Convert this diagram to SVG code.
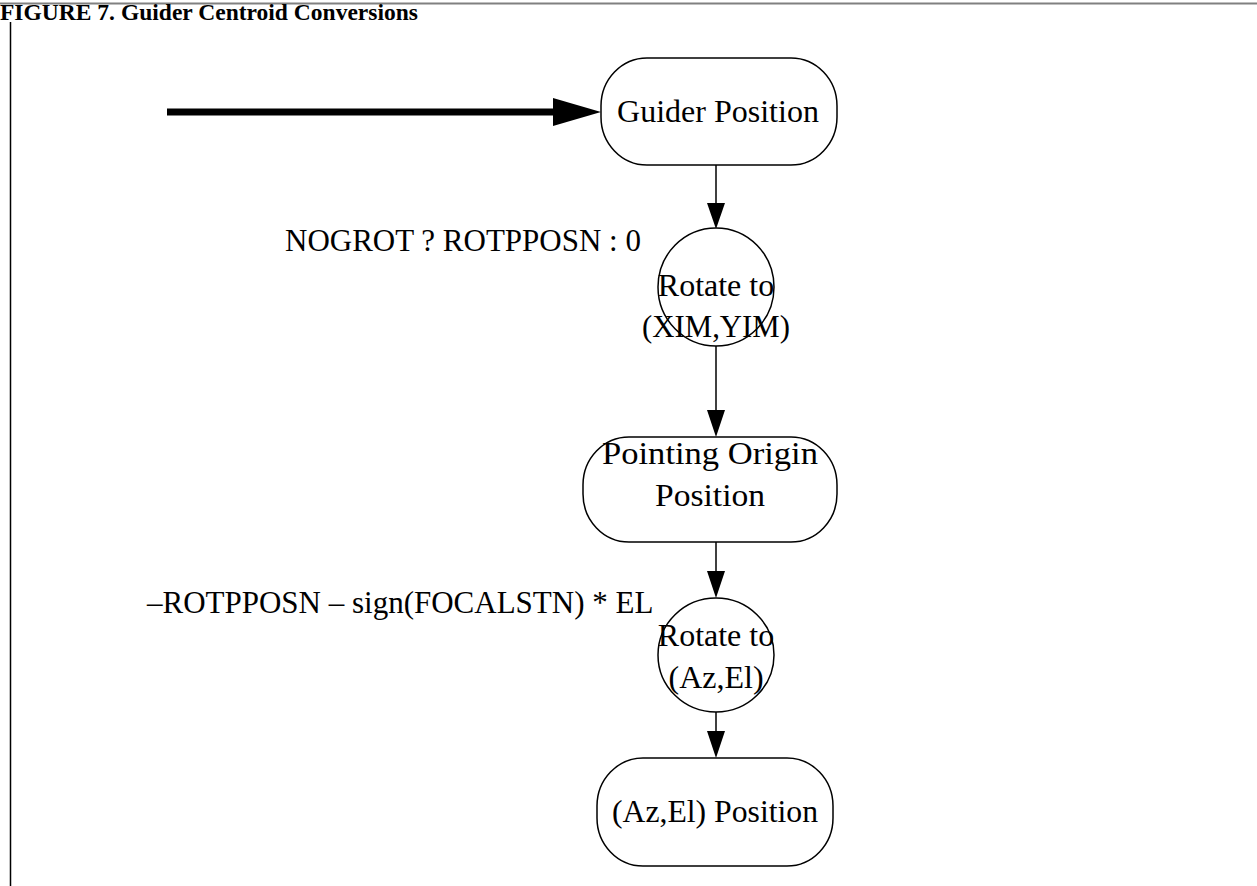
<svg xmlns="http://www.w3.org/2000/svg" width="1257" height="886" viewBox="0 0 1257 886">
  <defs>
    <style>
      .title { font-family: "Liberation Serif", "Times New Roman", serif; font-weight: bold; font-size: 23px; fill: #000; }
      .lbl { font-family: "Liberation Serif", "Times New Roman", serif; font-size: 32px; fill: #000; text-anchor: middle; }
      .note { font-family: "Liberation Serif", "Times New Roman", serif; font-size: 31px; fill: #000; }
      .shape { fill: #fff; stroke: #000; stroke-width: 1.5; }
      .edge { stroke: #000; stroke-width: 1.5; fill: none; }
      .head { fill: #000; }
      .frame { stroke: #000; stroke-width: 1.5; }
    </style>
  </defs>

  <!-- page frame -->
  <line x1="0" y1="3.5" x2="1257" y2="3.5" stroke="#808080" stroke-width="2"/>
  <line class="frame" x1="10.5" y1="22" x2="10.5" y2="886"/>
  <text class="title" x="0" y="20" textLength="418" lengthAdjust="spacingAndGlyphs">FIGURE 7. Guider Centroid Conversions</text>

  <!-- connectors -->
  <g id="connectors">
    <line x1="167" y1="112" x2="556" y2="112" stroke="#000" stroke-width="7"/>
    <polygon class="head" points="553,98 601,112 553,126"/>
    <line class="edge" x1="716" y1="165" x2="716" y2="205"/>
    <polygon class="head" points="707,203 725,203 716,229"/>
    <line class="edge" x1="716" y1="346" x2="716" y2="412"/>
    <polygon class="head" points="707,410 725,410 716,437"/>
    <line class="edge" x1="716" y1="542" x2="716" y2="572"/>
    <polygon class="head" points="707,571 725,571 716,598"/>
    <line class="edge" x1="716" y1="712" x2="716" y2="732"/>
    <polygon class="head" points="707,731 725,731 716,758"/>
    <text class="note" x="285" y="251">NOGROT ? ROTPPOSN : 0</text>
    <text class="note" x="147" y="613">–ROTPPOSN – sign(FOCALSTN) * EL</text>
  </g>

  <g id="guider-position">
    <rect class="shape" x="601" y="58" width="236" height="107" rx="46" ry="48"/>
    <text class="lbl" x="718" y="122">Guider Position</text>
  </g>

  <g id="rotate-xim-yim">
    <ellipse class="shape" cx="716" cy="287" rx="58" ry="59"/>
    <text class="lbl" x="716" y="296">Rotate to</text>
    <text class="lbl" x="716" y="337" textLength="148" lengthAdjust="spacingAndGlyphs">(XIM,YIM)</text>
  </g>

  <g id="pointing-origin">
    <rect class="shape" x="583" y="437" width="254" height="105" rx="46" ry="48"/>
    <text class="lbl" x="710" y="464" textLength="216" lengthAdjust="spacingAndGlyphs">Pointing Origin</text>
    <text class="lbl" x="710" y="506" textLength="110" lengthAdjust="spacingAndGlyphs">Position</text>
  </g>

  <g id="rotate-az-el">
    <ellipse class="shape" cx="716" cy="655" rx="58" ry="57"/>
    <text class="lbl" x="716" y="646">Rotate to</text>
    <text class="lbl" x="716" y="688">(Az,El)</text>
  </g>

  <g id="azel-position">
    <rect class="shape" x="597" y="758" width="236" height="108" rx="46" ry="48"/>
    <text class="lbl" x="715" y="822" textLength="206" lengthAdjust="spacingAndGlyphs">(Az,El) Position</text>
  </g>
</svg>
